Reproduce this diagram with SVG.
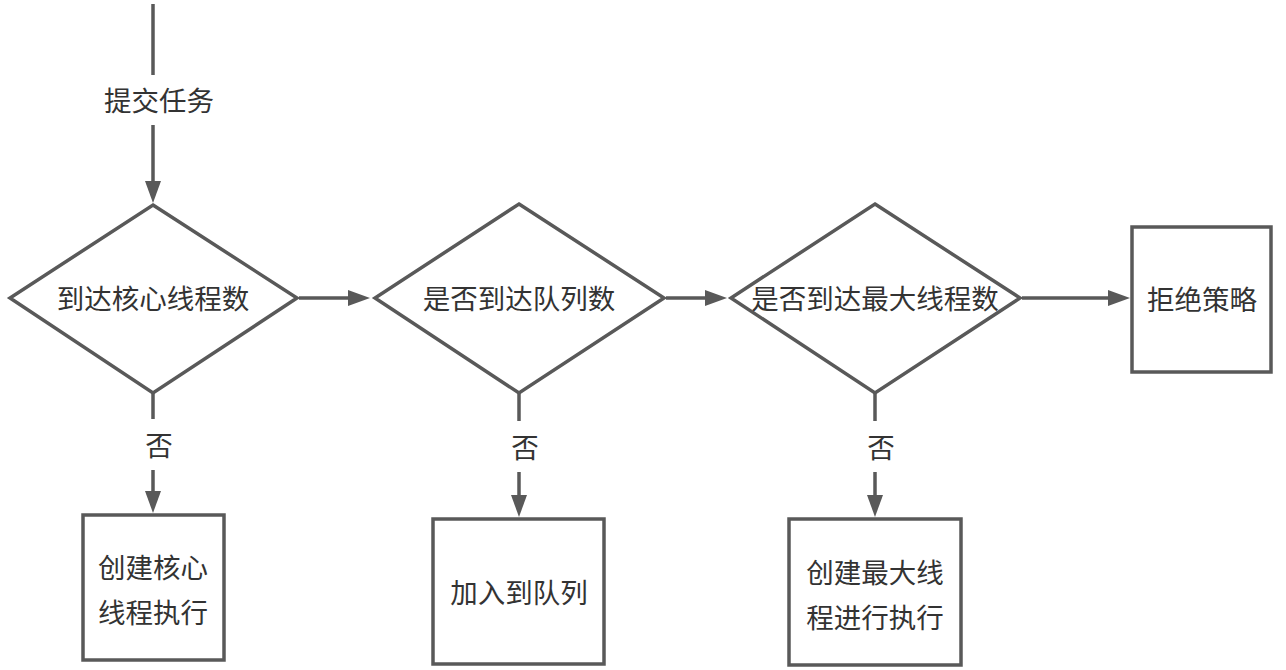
<svg xmlns="http://www.w3.org/2000/svg" width="1286" height="670" viewBox="0 0 1286 670">
  <style>
    .shape { fill: #ffffff; stroke: #595959; stroke-width: 3.5; }
    .edge { fill: none; stroke: #595959; stroke-width: 3.5; }
    .label { font-family: "Noto Sans CJK SC", "Microsoft YaHei", sans-serif; font-size: 27.5px; fill: #333333; text-anchor: middle; dominant-baseline: central; }
  </style>
  <defs>
    <marker id="arrow" markerUnits="userSpaceOnUse" markerWidth="24" markerHeight="18" refX="0" refY="8" orient="auto">
      <path d="M0,0 L22,8 L0,16 z" fill="#595959"/>
    </marker>
  </defs>
  <rect width="1286" height="670" fill="#ffffff"/>

  <!-- connectors -->
  <g id="connectors">
    <line class="edge" x1="153" y1="4" x2="153" y2="75"/>
    <text class="label" x="159" y="99">提交任务</text>
    <line class="edge" x1="153" y1="125" x2="153" y2="181" marker-end="url(#arrow)"/>

    <line class="edge" x1="299" y1="298" x2="348" y2="298" marker-end="url(#arrow)"/>
    <line class="edge" x1="666" y1="298" x2="705" y2="298" marker-end="url(#arrow)"/>
    <line class="edge" x1="1022" y1="298" x2="1108" y2="298" marker-end="url(#arrow)"/>

    <line class="edge" x1="153" y1="393" x2="153" y2="419"/>
    <text class="label" x="159" y="444">否</text>
    <line class="edge" x1="153" y1="470" x2="153" y2="491" marker-end="url(#arrow)"/>

    <line class="edge" x1="519" y1="393" x2="519" y2="421"/>
    <text class="label" x="525" y="446">否</text>
    <line class="edge" x1="519" y1="472" x2="519" y2="495" marker-end="url(#arrow)"/>

    <line class="edge" x1="875" y1="393" x2="875" y2="421"/>
    <text class="label" x="881" y="446">否</text>
    <line class="edge" x1="875" y1="472" x2="875" y2="495" marker-end="url(#arrow)"/>
  </g>

  <!-- decisions -->
  <g id="check-core">
    <polygon class="shape" points="153,205 297,298 153,393 10,298"/>
    <text class="label" x="153" y="297">到达核心线程数</text>
  </g>
  <g id="check-queue">
    <polygon class="shape" points="519,204 664,298 519,393 375,298"/>
    <text class="label" x="519" y="297">是否到达队列数</text>
  </g>
  <g id="check-max">
    <polygon class="shape" points="875,204 1020,298 875,393 731,298"/>
    <text class="label" x="875" y="297">是否到达最大线程数</text>
  </g>

  <!-- actions -->
  <g id="reject">
    <rect class="shape" x="1132" y="227" width="139" height="145"/>
    <text class="label" x="1202" y="298">拒绝策略</text>
  </g>
  <g id="create-core">
    <rect class="shape" x="83" y="515" width="141" height="145"/>
    <text class="label" x="153" y="566">创建核心</text>
    <text class="label" x="153" y="611">线程执行</text>
  </g>
  <g id="enqueue">
    <rect class="shape" x="433" y="519" width="171" height="145"/>
    <text class="label" x="519" y="591">加入到队列</text>
  </g>
  <g id="create-max">
    <rect class="shape" x="789" y="519" width="172" height="146"/>
    <text class="label" x="875" y="571">创建最大线</text>
    <text class="label" x="875" y="616">程进行执行</text>
  </g>
</svg>
